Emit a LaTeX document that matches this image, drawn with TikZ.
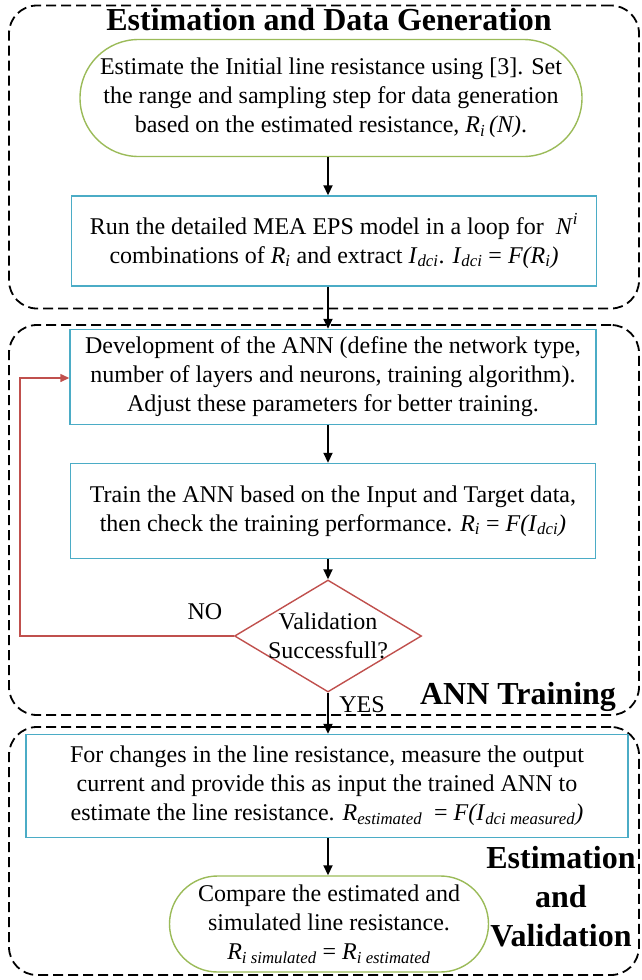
\documentclass[tikz,border=0pt]{standalone}
\usepackage{fontspec}
\setmainfont{Liberation Serif}
\usetikzlibrary{shapes.geometric,shapes.misc,arrows.meta}
\definecolor{boxblue}{HTML}{4BACC6}
\definecolor{termgreen}{HTML}{9BBB59}
\definecolor{loopred}{HTML}{C0504D}
\newcommand\sbs[1]{\textsubscript{\textit{#1}}}
\begin{document}
\begin{tikzpicture}[x=1pt,y=-1pt,
  every node/.style={font=\fontsize{24}{29}\selectfont, align=center},
  frame/.style={draw=black, line width=1.8pt, dash pattern=on 10pt off 5pt,
    rounded corners=28pt, minimum width=#1, inner sep=0pt},
  procbox/.style={draw=boxblue, line width=1.4pt, inner sep=0pt},
  terminal/.style={draw=termgreen, line width=1.4pt, rounded rectangle, inner sep=0pt},
  decision/.style={draw=loopred, line width=1.4pt, diamond, inner sep=-8pt},
  heading/.style={font=\fontsize{32}{39}\selectfont\bfseries},
  flow/.style={line width=1.8pt, -{Triangle[width=9pt,length=10pt]}},
  back/.style={draw=loopred, line width=1.4pt, -{Triangle[width=8pt,length=9pt]}}
]
\useasboundingbox (0,0) rectangle (641,980);

% dashed stage frames
\node[frame=630pt, minimum height=303pt] (stageA) at (324,157) {};
\node[frame=630pt, minimum height=390pt] (stageB) at (324,520) {};
\node[frame=630pt, minimum height=248pt] (stageC) at (324,851) {};

% stage headings
\node[heading] (headA) at (329,20) {Estimation and Data Generation};
\node[heading] (headB) at (518,697) {ANN Training};
\node[heading] (headC) at (561,897) {Estimation\\and\\Validation};

% flow elements
\node[terminal, minimum width=502pt, minimum height=117pt] (start) at (331,98)
  {Estimate the Initial line resistance using [3]. Set\\
   the range and sampling step for data generation\\
   based on the estimated resistance, \textit{R\sbs{i}\,(N)}.};

\node[procbox, minimum width=525pt, minimum height=90pt] (run) at (334,241)
  {Run the detailed MEA EPS model in a loop for\ \ \textit{N}\textsuperscript{\textit{i}}\\
   combinations of \textit{R}\sbs{i} and extract \textit{I}\sbs{dci}. \textit{I}\sbs{dci} = \textit{F(R}\sbs{i}\textit{)}};

\node[procbox, minimum width=526pt, minimum height=95pt] (dev) at (333,377)
  {Development of the ANN (define the network type,\\
   number of layers and neurons, training algorithm).\\
   Adjust these parameters for better training.};

\node[procbox, minimum width=525pt, minimum height=95pt] (train) at (333,511)
  {Train the ANN based on the Input and Target data,\\
   then check the training performance. \textit{R}\sbs{i} = \textit{F(I}\sbs{dci}\textit{)}};

\node[decision, minimum width=187pt, minimum height=112pt, aspect=1.67] (valid) at (328,636)
  {Validation\\Successfull?};

\node[procbox, minimum width=602pt, minimum height=103pt] (apply) at (327,786)
  {For changes in the line resistance, measure the output\\
   current and provide this as input the trained ANN to\\
   estimate the line resistance. \textit{R}\sbs{estimated}\ \ = \textit{F(I}\sbs{dci measured}\textit{)}};

\node[terminal, minimum width=319pt, minimum height=96pt] (stop) at (329,924)
  {Compare the estimated and\\
   simulated line resistance.\\
   \textit{R}\sbs{i simulated} = \textit{R}\sbs{i estimated}};

% branch labels
\node (no) at (205,612) {NO};
\node (yes) at (362,705) {YES};

% connectors
\coordinate (axis) at (328,0);
\draw[flow] (start.south -| axis) -- (run.north -| axis);
\draw[flow] (run.south -| axis) -- (dev.north -| axis);
\draw[flow] (dev.south -| axis) -- (train.north -| axis);
\draw[flow] (train.south -| axis) -- (valid.north);
\draw[flow] (valid.south) -- (apply.north -| axis);
\draw[flow] (apply.south -| axis) -- (stop.north -| axis);
\draw[back] (valid.west) -| (20,378) -- (dev.west |- 0,378);
\end{tikzpicture}
\end{document}
